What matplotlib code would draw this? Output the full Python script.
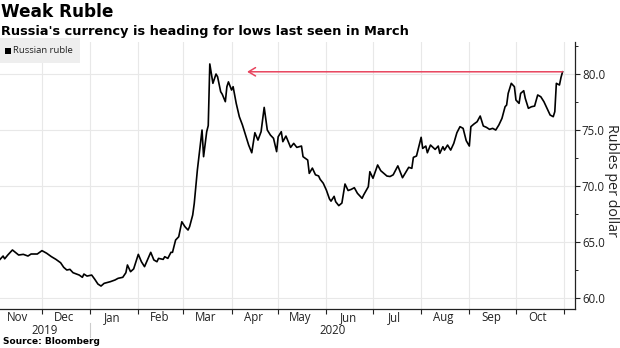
import matplotlib
matplotlib.use("Agg")
import matplotlib.pyplot as plt
import matplotlib.dates as mdates
import matplotlib.transforms as mtransforms
from matplotlib.patches import Rectangle
from matplotlib.lines import Line2D
import pandas as pd

# ---------------- data ----------------
dates = [
    "2019-11-04", "2019-11-06", "2019-11-07", "2019-11-09", "2019-11-12", "2019-11-16",
    "2019-11-19", "2019-11-22", "2019-11-24", "2019-11-28", "2019-12-01", "2019-12-04",
    "2019-12-07", "2019-12-10", "2019-12-13", "2019-12-15", "2019-12-17", "2019-12-19",
    "2019-12-21", "2019-12-25", "2019-12-27", "2019-12-28", "2019-12-30", "2020-01-02",
    "2020-01-04", "2020-01-06", "2020-01-08", "2020-01-10", "2020-01-14", "2020-01-17",
    "2020-01-19", "2020-01-22", "2020-01-24", "2020-01-25", "2020-01-27", "2020-01-29",
    "2020-02-01", "2020-02-03", "2020-02-05", "2020-02-09", "2020-02-11", "2020-02-13",
    "2020-02-14", "2020-02-17", "2020-02-18", "2020-02-20", "2020-02-22", "2020-02-23",
    "2020-02-25", "2020-02-27", "2020-02-29", "2020-03-02", "2020-03-04", "2020-03-05",
    "2020-03-07", "2020-03-08", "2020-03-10", "2020-03-11", "2020-03-13", "2020-03-14",
    "2020-03-16", "2020-03-17", "2020-03-18", "2020-03-20", "2020-03-22", "2020-03-23",
    "2020-03-25", "2020-03-26", "2020-03-28", "2020-03-29", "2020-03-30", "2020-04-01",
    "2020-04-02", "2020-04-04", "2020-04-06", "2020-04-08", "2020-04-10", "2020-04-12",
    "2020-04-14", "2020-04-16", "2020-04-18", "2020-04-20", "2020-04-22", "2020-04-24",
    "2020-04-26", "2020-04-28", "2020-04-30", "2020-05-01", "2020-05-03", "2020-05-04",
    "2020-05-06", "2020-05-09", "2020-05-11", "2020-05-13", "2020-05-16", "2020-05-17",
    "2020-05-20", "2020-05-21", "2020-05-23", "2020-05-25", "2020-05-27", "2020-05-28",
    "2020-05-30", "2020-06-01", "2020-06-03", "2020-06-04", "2020-06-06", "2020-06-07",
    "2020-06-09", "2020-06-11", "2020-06-13", "2020-06-15", "2020-06-17", "2020-06-19",
    "2020-06-21", "2020-06-24", "2020-06-25", "2020-06-28", "2020-06-29", "2020-07-01",
    "2020-07-04", "2020-07-06", "2020-07-10", "2020-07-12", "2020-07-14", "2020-07-17",
    "2020-07-20", "2020-07-24", "2020-07-26", "2020-07-27", "2020-07-29", "2020-08-01",
    "2020-08-02", "2020-08-04", "2020-08-05", "2020-08-07", "2020-08-10", "2020-08-12",
    "2020-08-13", "2020-08-15", "2020-08-16", "2020-08-18", "2020-08-20", "2020-08-22",
    "2020-08-24", "2020-08-26", "2020-08-28", "2020-08-30", "2020-09-01", "2020-09-02",
    "2020-09-04", "2020-09-06", "2020-09-08", "2020-09-10", "2020-09-12", "2020-09-14",
    "2020-09-16", "2020-09-18", "2020-09-20", "2020-09-22", "2020-09-24", "2020-09-25",
    "2020-09-26", "2020-09-28", "2020-09-30", "2020-10-01", "2020-10-03", "2020-10-04",
    "2020-10-06", "2020-10-07", "2020-10-09", "2020-10-11", "2020-10-13", "2020-10-15",
    "2020-10-17", "2020-10-19", "2020-10-21", "2020-10-23", "2020-10-25", "2020-10-26",
    "2020-10-27", "2020-10-29", "2020-10-30", "2020-10-31",
]
rub_per_usd = [
    63.45, 63.75, 63.50, 63.84, 64.29, 63.84,
    63.90, 63.75, 63.93, 63.93, 64.23, 64.00,
    63.70, 63.45, 63.15, 62.74, 62.50, 62.56,
    62.26, 62.05, 61.85, 62.14, 61.96, 62.05,
    61.67, 61.25, 61.07, 61.31, 61.46, 61.61,
    61.76, 61.85, 62.26, 62.95, 62.35, 62.60,
    63.90, 63.24, 62.80, 64.08, 63.40, 63.24,
    63.54, 63.45, 63.69, 63.54, 64.08, 64.08,
    65.18, 65.47, 66.81, 66.37, 66.07, 66.37,
    67.41, 68.45, 71.43, 72.62, 75.00, 72.62,
    74.85, 75.40, 80.90, 79.17, 80.00, 79.76,
    78.42, 78.20, 77.53, 78.87, 79.30, 78.57,
    78.87, 77.38, 76.19, 75.45, 74.55, 73.66,
    72.97, 74.76, 74.10, 74.85, 77.02, 75.00,
    74.55, 74.26, 73.07, 74.40, 74.85, 73.96,
    74.46, 73.45, 73.81, 73.45, 73.57, 72.62,
    72.32, 71.13, 71.60, 71.00, 70.90, 70.60,
    70.25, 69.64, 68.85, 68.65, 69.08, 68.60,
    68.25, 68.48, 70.18, 69.60, 69.70, 69.85,
    69.35, 68.90, 69.20, 69.94, 71.28, 70.69,
    71.88, 71.37, 70.89, 70.85, 71.00, 71.80,
    70.74, 71.67, 71.58, 72.56, 72.68, 74.35,
    73.36, 73.57, 72.97, 73.66, 73.27, 73.57,
    72.92, 73.51, 73.21, 73.66, 73.21, 73.81,
    74.76, 75.30, 75.15, 74.05, 73.57, 75.30,
    75.54, 75.74, 76.25, 75.36, 75.24, 75.06,
    75.15, 75.00, 75.45, 76.04, 77.08, 77.23,
    78.27, 79.17, 78.87, 77.68, 77.38, 78.27,
    78.51, 77.83, 76.94, 77.08, 77.14, 78.13,
    77.97, 77.53, 76.94, 76.34, 76.19, 76.64,
    79.17, 79.02, 79.70, 80.20,
]
series_name = "Russian ruble"
arrow_target_date = "2020-04-11"
y_major_ticks = [60, 65, 70, 75, 80]
x_start, x_end = "2019-11-04", "2020-11-08"
y_min, y_max = 59.02, 82.86

title = "Weak Ruble"
subtitle = "Russia's currency is heading for lows last seen in March"
source = "Source: Bloomberg"
y_label = "Rubles per dollar"

# ---------------- figure ----------------
W, H = 620, 348
plt.rcParams["font.family"] = ["Open Sans", "DejaVu Sans"]
fig = plt.figure(figsize=(W / 100, H / 100), dpi=100)
BOLD = ["DejaVu Sans"]


def fx(px):
    return px / W


def fy(py):
    return 1 - py / H


ax_left, ax_right, ax_top, ax_bottom = 0, 575, 42, 309
ax = fig.add_axes([fx(ax_left), fy(ax_bottom), fx(ax_right - ax_left), (ax_bottom - ax_top) / H])

x = pd.to_datetime(dates)
ax.plot(x, rub_per_usd, color="black", lw=1.2, zorder=3)

ax.set_xlim(pd.Timestamp(x_start), pd.Timestamp(x_end))
ax.set_ylim(y_min, y_max)

for s in ["left", "top"]:
    ax.spines[s].set_visible(False)
for s in ["right", "bottom"]:
    ax.spines[s].set_color("#222222")
    ax.spines[s].set_linewidth(0.9)

# y axis on right
ax.yaxis.tick_right()
ax.set_yticks(y_major_ticks)
ax.yaxis.set_major_formatter(matplotlib.ticker.FormatStrFormatter("%.1f"))
ax.yaxis.set_minor_locator(matplotlib.ticker.MultipleLocator(2.5))
ax.tick_params(axis="y", which="major", length=3.5, width=0.8, pad=1.5, labelsize=8.3, colors="#222222")
ax.tick_params(axis="y", which="minor", length=2.5, width=0.7, colors="#222222")

# x axis months
ax.xaxis.set_major_locator(mdates.MonthLocator())
ax.xaxis.set_major_formatter(matplotlib.ticker.NullFormatter())
ax.xaxis.set_minor_locator(mdates.MonthLocator(bymonthday=15))
ax.xaxis.set_minor_formatter(mdates.DateFormatter("%b"))
ax.tick_params(axis="x", which="major", length=3.5, width=0.8, colors="#222222")
ax.tick_params(axis="x", which="minor", length=0, pad=1.5, labelsize=8.3, colors="#222222")

ax.grid(True, which="major", color="#e8e8e8", lw=0.8, zorder=0)
ax.set_axisbelow(True)

# year labels and separator
trans = mtransforms.blended_transform_factory(ax.transData, fig.transFigure)
jan1 = pd.Timestamp("2020-01-01")
xs, xe = pd.Timestamp(x_start), pd.Timestamp(x_end)
ax.text(xs + (jan1 - xs) / 2, fy(330), "2019", transform=trans, ha="center", va="center",
        fontsize=8.3, color="#222222")
ax.text(jan1 + (xe - jan1) / 2, fy(330), "2020", transform=trans, ha="center", va="center",
        fontsize=8.3, color="#222222")
sep = Line2D([mdates.date2num(jan1)] * 2, [fy(323), fy(337)], transform=trans,
             color="#cccccc", lw=0.8, clip_on=False)
ax.add_line(sep)

# arrow annotation
red = "#e8445e"
ax.annotate("", xy=(pd.Timestamp(arrow_target_date), rub_per_usd[-1]),
            xytext=(x[-1], rub_per_usd[-1]),
            arrowprops=dict(arrowstyle="->,head_length=0.5,head_width=0.3", color=red, lw=1.1,
                            shrinkA=0, shrinkB=0), zorder=4)

# y label
fig.text(fx(612), fy(180), y_label, rotation=270, ha="center", va="center", fontsize=10.3,
         color="#222222")

# titles
fig.text(fx(1), fy(12), title, fontsize=12.2, fontweight="bold", ha="left", va="center",
         color="black", family=BOLD)
fig.text(fx(1), fy(31), subtitle, fontsize=9.3, fontweight="bold", ha="left", va="center",
         color="black", family=BOLD)
fig.text(fx(3), fy(342), source, fontsize=6.5, fontweight="bold", ha="left", va="center",
         color="black", family=BOLD)

# legend box
fig.patches.append(Rectangle((fx(0), fy(63)), fx(80), (63 - 38) / H, transform=fig.transFigure,
                             facecolor="#eeeeee", edgecolor="none", zorder=5))
fig.patches.append(Rectangle((fx(5), fy(54)), fx(6), 6 / H, transform=fig.transFigure,
                             facecolor="black", edgecolor="none", zorder=6))
fig.text(fx(13), fy(50.5), series_name, fontsize=6.8, ha="left", va="center", color="#222222",
         zorder=7)

fig.savefig("out.png", dpi=100)
